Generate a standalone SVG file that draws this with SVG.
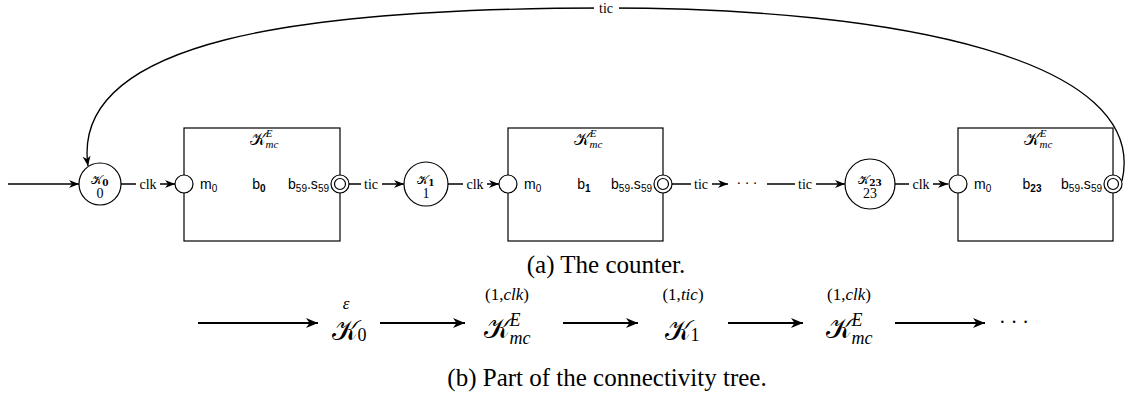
<svg xmlns="http://www.w3.org/2000/svg" width="1133" height="395" viewBox="0 0 1133 395">
<style>
.ln{fill:none;stroke:#000;stroke-width:1.3}
.ar{marker-end:url(#ah)}
.bx{fill:none;stroke:#000;stroke-width:1.2}
.pt{fill:#fff;stroke:#000;stroke-width:1.2}
.st{fill:#fff;stroke:#000;stroke-width:1.2}
.lbl{font-family:"Liberation Serif",serif;font-size:14px;text-anchor:middle}
.sf{font-family:"Liberation Sans",sans-serif;font-size:14px}
.cal{font-family:"DejaVu Serif","Liberation Serif",serif;font-style:normal}
.mi{font-family:"Liberation Serif",serif;font-style:italic}
.rm{font-family:"Liberation Serif",serif}
.bg{fill:#fff}
.big{fill:none;stroke:#000;stroke-width:2.2;marker-end:url(#bh)}
.cap{font-family:"Liberation Serif",serif;font-size:25px;text-anchor:middle}
</style>
<defs>
<marker id="ah" markerUnits="userSpaceOnUse" markerWidth="12" markerHeight="10" refX="10" refY="4" orient="auto" viewBox="0 0 12 8">
<path d="M0,0 L10,4 L0,8 L3,4 Z" fill="#000"/>
</marker>
<marker id="bh" markerUnits="userSpaceOnUse" markerWidth="14" markerHeight="12" refX="12" refY="5" orient="auto" viewBox="0 0 14 10">
<path d="M0,0 L12,5 L0,10 L3.5,5 Z" fill="#000"/>
</marker>
</defs>

<g id="connectors">
<path class="ln ar" d="M8,184 L79,184"/>
<path class="ln ar" d="M121,184 L175,184"/>
<rect class="bg" x="136" y="176" width="24" height="16"/>
<text class="lbl" x="148" y="189">clk</text>
<path class="ln ar" d="M349,184 L404,184"/>
<rect class="bg" x="361" y="176" width="21" height="16"/>
<text class="lbl" x="371" y="189">tic</text>
<path class="ln ar" d="M448,184 L499,184"/>
<rect class="bg" x="463" y="176" width="24" height="16"/>
<text class="lbl" x="475" y="189">clk</text>
<path class="ln ar" d="M672,184 L728,184"/>
<rect class="bg" x="691" y="176" width="21" height="16"/>
<text class="lbl" x="701" y="189">tic</text>
<text class="lbl" x="747" y="188">· · ·</text>
<path class="ln ar" d="M767,184 L845,184"/>
<rect class="bg" x="795" y="176" width="21" height="16"/>
<text class="lbl" x="805" y="189">tic</text>
<path class="ln ar" d="M895,184 L948,184"/>
<rect class="bg" x="909" y="176" width="24" height="16"/>
<text class="lbl" x="921" y="189">clk</text>
<path class="ln ar" d="M1122,181 C1150,60 900,8 606,8 C300,8 70,40 88,166"/>
<rect class="bg" x="594" y="0" width="25" height="17"/>
<text class="lbl" x="606" y="13">tic</text>
</g>

<g id="k0">
<circle class="st" cx="100" cy="184" r="21"/>
<text class="cal" x="100" y="184" font-size="12" text-anchor="middle">𝒦<tspan font-size="9" font-weight="bold" dy="2">0</tspan></text>
<text class="rm" x="100" y="198" font-size="14" text-anchor="middle">0</text>
</g>

<g id="box1">
<rect class="bx" x="184" y="128" width="156" height="113"/>
<text class="cal" x="264" y="145" font-size="17" text-anchor="middle">𝒦<tspan class="mi" font-size="11" dy="-8">E</tspan><tspan class="mi" font-size="11" dx="-7" dy="11">mc</tspan></text>
<circle class="pt" cx="184" cy="184" r="9"/>
<circle class="pt" cx="340" cy="184" r="9"/>
<circle class="pt" cx="340" cy="184" r="5.5"/>
<text class="sf" x="200" y="189">m<tspan font-size="10" dy="3">0</tspan></text>
<text class="sf" x="259" y="189" text-anchor="middle">b<tspan font-size="10" font-weight="bold" dy="3">0</tspan></text>
<text class="sf" x="329" y="189" text-anchor="end">b<tspan font-size="10" dy="3">59</tspan><tspan dy="-3">.s</tspan><tspan font-size="10" dy="3">59</tspan></text>
</g>

<g id="k1">
<circle class="st" cx="426" cy="184" r="22"/>
<text class="cal" x="426" y="184" font-size="12" text-anchor="middle">𝒦<tspan font-size="9" font-weight="bold" dy="2">1</tspan></text>
<text class="rm" x="426" y="198" font-size="14" text-anchor="middle">1</text>
</g>

<g id="box2">
<rect class="bx" x="508" y="128" width="155" height="113"/>
<text class="cal" x="588" y="145" font-size="17" text-anchor="middle">𝒦<tspan class="mi" font-size="11" dy="-8">E</tspan><tspan class="mi" font-size="11" dx="-7" dy="11">mc</tspan></text>
<circle class="pt" cx="508" cy="184" r="9"/>
<circle class="pt" cx="663" cy="184" r="9"/>
<circle class="pt" cx="663" cy="184" r="5.5"/>
<text class="sf" x="524" y="189">m<tspan font-size="10" dy="3">0</tspan></text>
<text class="sf" x="584" y="189" text-anchor="middle">b<tspan font-size="10" font-weight="bold" dy="3">1</tspan></text>
<text class="sf" x="652" y="189" text-anchor="end">b<tspan font-size="10" dy="3">59</tspan><tspan dy="-3">.s</tspan><tspan font-size="10" dy="3">59</tspan></text>
</g>

<g id="k23">
<circle class="st" cx="870" cy="184" r="25"/>
<text class="cal" x="870" y="184" font-size="12" text-anchor="middle">𝒦<tspan font-size="9" font-weight="bold" dy="2">23</tspan></text>
<text class="rm" x="870" y="198" font-size="14" text-anchor="middle">23</text>
</g>

<g id="box3">
<rect class="bx" x="958" y="128" width="155" height="113"/>
<text class="cal" x="1038" y="145" font-size="17" text-anchor="middle">𝒦<tspan class="mi" font-size="11" dy="-8">E</tspan><tspan class="mi" font-size="11" dx="-7" dy="11">mc</tspan></text>
<circle class="pt" cx="958" cy="184" r="9"/>
<circle class="pt" cx="1113" cy="184" r="9"/>
<circle class="pt" cx="1113" cy="184" r="5.5"/>
<text class="sf" x="974" y="189">m<tspan font-size="10" dy="3">0</tspan></text>
<text class="sf" x="1032" y="189" text-anchor="middle">b<tspan font-size="10" font-weight="bold" dy="3">23</tspan></text>
<text class="sf" x="1102" y="189" text-anchor="end">b<tspan font-size="10" dy="3">59</tspan><tspan dy="-3">.s</tspan><tspan font-size="10" dy="3">59</tspan></text>
</g>

<text class="cap" x="606" y="273">(a)  The counter.</text>

<g id="tree-connectors">
<path class="big" d="M198,323 L318,323"/>
<path class="big" d="M380,323 L465,323"/>
<path class="big" d="M563,323 L638,323"/>
<path class="big" d="M728,323 L803,323"/>
<path class="big" d="M895,323 L985,323"/>
</g>

<g id="t0">
<text class="mi" x="346" y="309" font-size="17" text-anchor="middle">ε</text>
<text class="cal" x="349" y="340" font-size="28" text-anchor="middle">𝒦<tspan class="rm" font-size="18" dy="1">0</tspan></text>
</g>
<g id="t1">
<text class="rm" x="507" y="300" font-size="17" text-anchor="middle">(1,<tspan class="mi">clk</tspan>)</text>
<text class="cal" x="507" y="338" font-size="28" text-anchor="middle">𝒦<tspan class="mi" font-size="18" dy="-12">E</tspan><tspan class="mi" font-size="18" dx="-11" dy="18">mc</tspan></text>
</g>
<g id="t2">
<text class="rm" x="683" y="300" font-size="17" text-anchor="middle">(1,<tspan class="mi">tic</tspan>)</text>
<text class="cal" x="682" y="340" font-size="28" text-anchor="middle">𝒦<tspan class="rm" font-size="18" dy="1">1</tspan></text>
</g>
<g id="t3">
<text class="rm" x="849" y="300" font-size="17" text-anchor="middle">(1,<tspan class="mi">clk</tspan>)</text>
<text class="cal" x="849" y="338" font-size="28" text-anchor="middle">𝒦<tspan class="mi" font-size="18" dy="-12">E</tspan><tspan class="mi" font-size="18" dx="-11" dy="18">mc</tspan></text>
</g>
<text class="rm" x="1014" y="329" font-size="20" text-anchor="middle">· · ·</text>

<text class="cap" x="607" y="386">(b) Part of the connectivity tree.</text>
</svg>
